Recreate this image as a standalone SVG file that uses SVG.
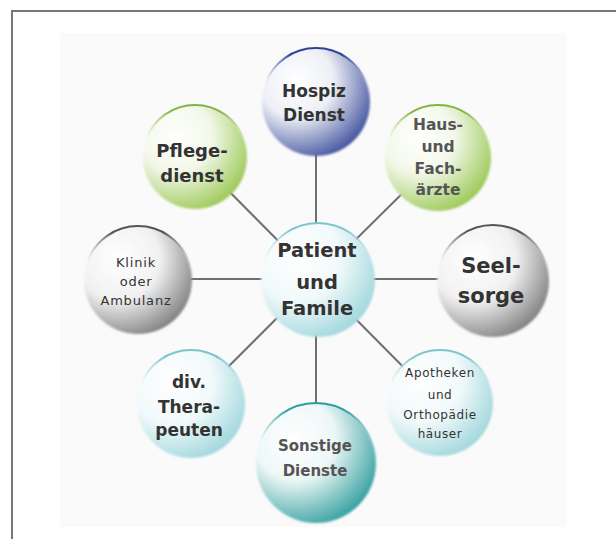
<svg xmlns="http://www.w3.org/2000/svg" width="616" height="539" viewBox="0 0 616 539">
<style>
.t{font-family:"DejaVu Sans",Verdana,sans-serif;text-anchor:middle;fill:#333}
.b{font-weight:bold}
.g{fill:#555}
.c{stroke:#6f6f6f;stroke-width:2;fill:none}
.rim{fill:none;stroke-width:2}
.n{filter:url(#soft)}
</style>
<defs>
<filter id="soft" x="-10%" y="-10%" width="120%" height="120%"><feGaussianBlur stdDeviation="1.1"/></filter>
<radialGradient id="gBlue" cx="0.32" cy="0.3" r="0.85"><stop offset="0" stop-color="#fff"/><stop offset="0.4" stop-color="#eef0f6"/><stop offset="1" stop-color="#24388f"/></radialGradient>
<radialGradient id="gGreen" cx="0.32" cy="0.3" r="0.85"><stop offset="0" stop-color="#fff"/><stop offset="0.4" stop-color="#f3f8ea"/><stop offset="1" stop-color="#8cc03c"/></radialGradient>
<radialGradient id="gGray" cx="0.32" cy="0.3" r="0.85"><stop offset="0" stop-color="#fff"/><stop offset="0.45" stop-color="#f1f1f1"/><stop offset="1" stop-color="#6a6a6a"/></radialGradient>
<radialGradient id="gCyan" cx="0.32" cy="0.3" r="0.85"><stop offset="0" stop-color="#fff"/><stop offset="0.45" stop-color="#f1f9fa"/><stop offset="1" stop-color="#8fd0d6"/></radialGradient>
<radialGradient id="gTeal" cx="0.32" cy="0.3" r="0.85"><stop offset="0" stop-color="#fff"/><stop offset="0.4" stop-color="#eef7f7"/><stop offset="1" stop-color="#13918f"/></radialGradient>
<linearGradient id="rBlue"><stop offset="0" stop-color="#2f4396" stop-opacity="0"/><stop offset="0.25" stop-color="#2f4396"/><stop offset="0.75" stop-color="#2f4396"/><stop offset="1" stop-color="#2f4396" stop-opacity="0"/></linearGradient>
<linearGradient id="rGreen"><stop offset="0" stop-color="#82b443" stop-opacity="0"/><stop offset="0.25" stop-color="#82b443"/><stop offset="0.75" stop-color="#82b443"/><stop offset="1" stop-color="#82b443" stop-opacity="0"/></linearGradient>
<linearGradient id="rGray"><stop offset="0" stop-color="#555" stop-opacity="0"/><stop offset="0.25" stop-color="#555"/><stop offset="0.75" stop-color="#555"/><stop offset="1" stop-color="#555" stop-opacity="0"/></linearGradient>
<linearGradient id="rCyan"><stop offset="0" stop-color="#7cc4cb" stop-opacity="0"/><stop offset="0.25" stop-color="#7cc4cb"/><stop offset="0.75" stop-color="#7cc4cb"/><stop offset="1" stop-color="#7cc4cb" stop-opacity="0"/></linearGradient>
<linearGradient id="rTeal"><stop offset="0" stop-color="#2a9d9d" stop-opacity="0"/><stop offset="0.25" stop-color="#2a9d9d"/><stop offset="0.75" stop-color="#2a9d9d"/><stop offset="1" stop-color="#2a9d9d" stop-opacity="0"/></linearGradient>
</defs>
<rect width="616" height="539" fill="#fff"/>
<path d="M12,539 V11 H616" fill="none" stroke="#777" stroke-width="2"/>
<rect x="60" y="33" width="506" height="494" fill="#fafafa"/>
<g id="connectors">
<line class="c" x1="316" y1="279" x2="316" y2="103"/>
<line class="c" x1="316" y1="279" x2="195" y2="157"/>
<line class="c" x1="316" y1="279" x2="438" y2="158"/>
<line class="c" x1="316" y1="279" x2="138" y2="279"/>
<line class="c" x1="316" y1="279" x2="493" y2="279"/>
<line class="c" x1="316" y1="279" x2="191" y2="404"/>
<line class="c" x1="316" y1="279" x2="440" y2="404"/>
<line class="c" x1="316" y1="279" x2="316" y2="462"/>
</g>
<g id="hospiz">
<circle class="n" cx="316" cy="102" r="54" fill="url(#gBlue)"/>
<path class="rim" stroke="url(#rBlue)" d="M265.3,83.5 A54,54 0 0 1 366.7,83.5"/>
<text class="t b" font-size="17" x="314" y="97">Hospiz</text>
<text class="t b" font-size="17" x="314" y="121">Dienst</text>
</g>
<g id="pflegedienst">
<circle class="n" cx="195" cy="157" r="52" fill="url(#gGreen)"/>
<path class="rim" stroke="url(#rGreen)" d="M146.1,139.2 A52,52 0 0 1 243.9,139.2"/>
<text class="t b" font-size="18" x="192" y="157">Pflege-</text>
<text class="t b" font-size="18" x="192" y="182">dienst</text>
</g>
<g id="hausaerzte">
<circle class="n" cx="438" cy="158" r="53" fill="url(#gGreen)"/>
<path class="rim" stroke="url(#rGreen)" d="M388.2,139.9 A53,53 0 0 1 487.8,139.9"/>
<text class="t b g" font-size="15.5" x="438" y="130">Haus-</text>
<text class="t b g" font-size="15.5" x="438" y="152">und</text>
<text class="t b g" font-size="15.5" x="438" y="174">Fach-</text>
<text class="t b g" font-size="15.5" x="438" y="195">ärzte</text>
</g>
<g id="klinik">
<circle class="n" cx="138" cy="280" r="54" fill="url(#gGray)"/>
<path class="rim" stroke="url(#rGray)" d="M87.3,261.5 A54,54 0 0 1 188.7,261.5"/>
<text class="t" font-size="13" letter-spacing="0.8" x="136" y="267">Klinik</text>
<text class="t" font-size="13" letter-spacing="0.8" x="136" y="286">oder</text>
<text class="t" font-size="13" letter-spacing="0.8" x="136" y="305">Ambulanz</text>
</g>
<g id="patient">
<circle class="n" cx="318" cy="280" r="57" fill="url(#gCyan)"/>
<path class="rim" stroke="url(#rCyan)" d="M264.4,260.5 A57,57 0 0 1 371.6,260.5"/>
<text class="t b" font-size="19.5" x="317" y="257">Patient</text>
<text class="t b" font-size="19.5" x="317" y="289">und</text>
<text class="t b" font-size="19.5" x="317" y="315">Famile</text>
</g>
<g id="seelsorge">
<circle class="n" cx="493" cy="281" r="56" fill="url(#gGray)"/>
<path class="rim" stroke="url(#rGray)" d="M440.4,261.8 A56,56 0 0 1 545.6,261.8"/>
<text class="t b" font-size="21" x="491" y="273">Seel-</text>
<text class="t b" font-size="21" x="491" y="303">sorge</text>
</g>
<g id="therapeuten">
<circle class="n" cx="191" cy="404" r="54" fill="url(#gCyan)"/>
<path class="rim" stroke="url(#rCyan)" d="M140.3,385.5 A54,54 0 0 1 241.7,385.5"/>
<text class="t b" font-size="17" x="189" y="388">div.</text>
<text class="t b" font-size="17" x="189" y="413">Thera-</text>
<text class="t b" font-size="17" x="189" y="436">peuten</text>
</g>
<g id="apotheken">
<circle class="n" cx="440" cy="403" r="53" fill="url(#gCyan)"/>
<path class="rim" stroke="url(#rCyan)" d="M390.2,384.9 A53,53 0 0 1 489.8,384.9"/>
<text class="t" font-size="12" letter-spacing="0.6" x="440" y="377">Apotheken</text>
<text class="t" font-size="12" letter-spacing="0.6" x="440" y="399">und</text>
<text class="t" font-size="12" letter-spacing="0.6" x="440" y="419">Orthopädie</text>
<text class="t" font-size="12" letter-spacing="0.6" x="440" y="438">häuser</text>
</g>
<g id="sonstige">
<circle class="n" cx="316" cy="463" r="60" fill="url(#gTeal)"/>
<path class="rim" stroke="url(#rTeal)" d="M259.6,442.5 A60,60 0 0 1 372.4,442.5"/>
<text class="t b g" font-size="15" x="315" y="451">Sonstige</text>
<text class="t b g" font-size="15" x="315" y="476">Dienste</text>
</g>
</svg>
